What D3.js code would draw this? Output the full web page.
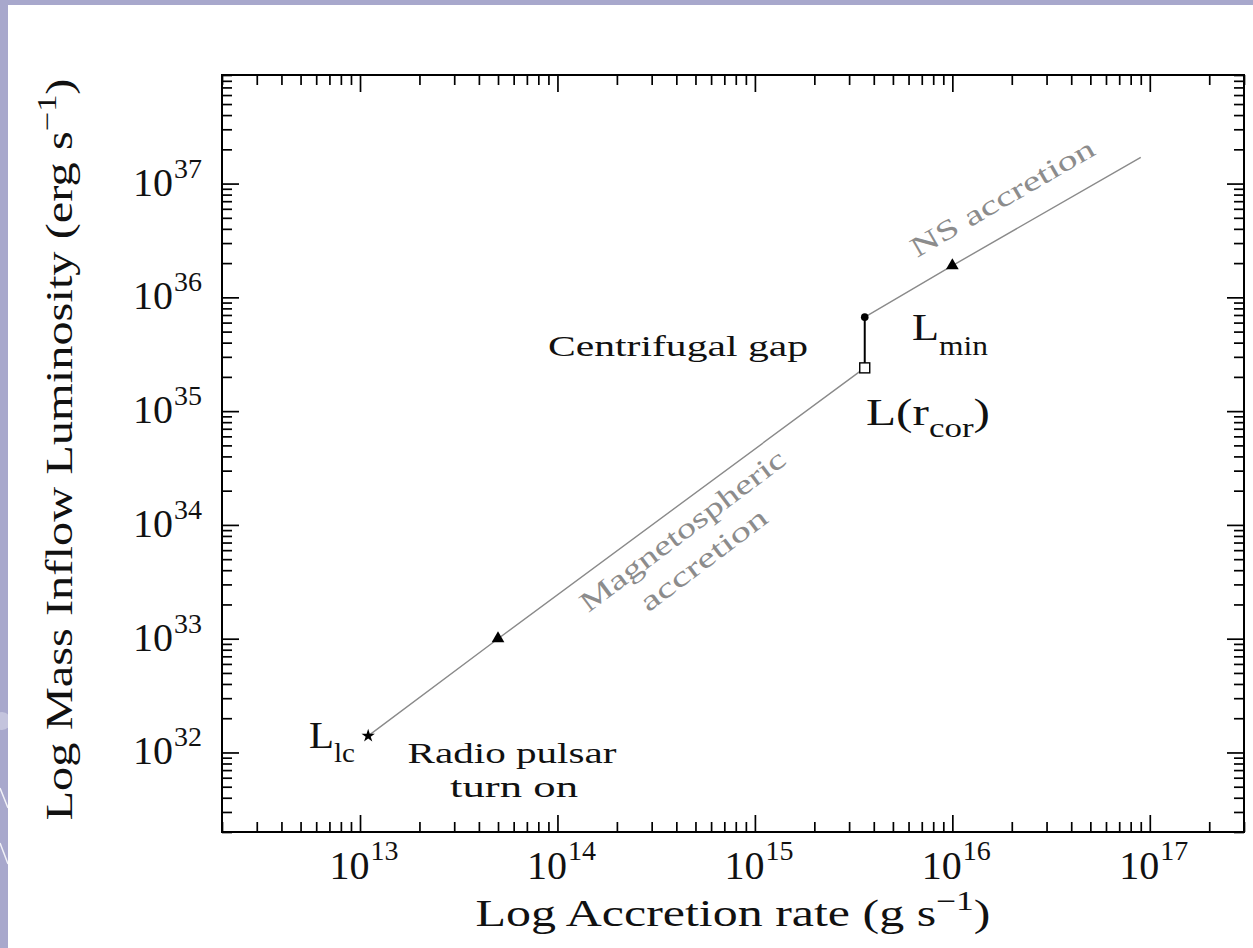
<!DOCTYPE html>
<html>
<head>
<meta charset="utf-8">
<script src="https://cdn.jsdelivr.net/npm/d3@7"></script>
<style>
  html, body { margin: 0; padding: 0; background: #a8a8cc; }
  svg { display: block; font-family: "Liberation Serif", "Times New Roman", serif; }
</style>
</head>
<body>
<svg id="chart" width="1253" height="948"></svg>
<script>
// ---- data -------------------------------------------------------------
const rateDomain = [2e12, 3e17];          // accretion rate, g s^-1
const lumDomain  = [2e31, 9e37];          // luminosity, erg s^-1
const rateTickValues    = [1e13, 1e14, 1e15, 1e16, 1e17];
const rateTickExponents = ["13", "14", "15", "16", "17"];
const lumTickValues     = [1e32, 1e33, 1e34, 1e35, 1e36, 1e37];
const lumTickExponents  = ["32", "33", "34", "35", "36", "37"];

// magnetospheric branch: light cylinder -> corotation
const magnetoRate = [1.1e13, 5.0e13, 3.6e15];
const magnetoLum  = [1.4e32, 1.0e33, 2.4e35];
// neutron-star surface branch: L_min -> upward
const surfaceRate = [3.6e15, 1.0e16, 9.0e16];
const surfaceLum  = [6.7e35, 1.9e36, 1.7e37];
// centrifugal gap (vertical jump)
const gapRate = [3.6e15, 3.6e15];
const gapLum  = [2.4e35, 6.7e35];
// markers
const starRate = [1.1e13];         const starLum = [1.4e32];
const triRate  = [5.0e13, 1.0e16]; const triLum  = [1.0e33, 1.9e36];
const dotRate  = [3.6e15];         const dotLum  = [6.7e35];
const sqRate   = [3.6e15];         const sqLum   = [2.4e35];

// ---- layout -----------------------------------------------------------
const svg = d3.select("#chart");
const W = 1253, H = 948;
const plot = { left: 222, right: 1244, top: 75, bottom: 832 };
const INK = "#111";

// slide background: lavender border with white panel
svg.append("rect").attr("width", W).attr("height", H).attr("fill", "#a8a8cc");
svg.append("circle").attr("cx", 2).attr("cy", 721).attr("r", 9).attr("fill", "#c4c4dd");
svg.append("line").attr("x1", 0).attr("y1", 788).attr("x2", 8).attr("y2", 808)
  .attr("stroke", "#ffffff").attr("stroke-width", 1.5).attr("opacity", 0.85);
svg.append("line").attr("x1", 0).attr("y1", 843).attr("x2", 8).attr("y2", 864)
  .attr("stroke", "#ffffff").attr("stroke-width", 1.5).attr("opacity", 0.85);
svg.append("rect").attr("x", 8).attr("y", 5).attr("width", W - 8).attr("height", H - 5)
  .attr("fill", "#ffffff");

const x = d3.scaleLog().domain(rateDomain).range([plot.left, plot.right]);
const y = d3.scaleLog().domain(lumDomain).range([plot.bottom, plot.top]);

const isDecade = v => Math.abs(Math.log10(v) - Math.round(Math.log10(v))) < 1e-9;
const xMinor = x.ticks().filter(v => !isDecade(v));
const yMinor = y.ticks().filter(v => !isDecade(v));

const MINOR = 10, MAJOR = 17;

function styleAxis(g) {
  g.select(".domain").remove();
  g.selectAll(".tick line").attr("stroke", "#000").attr("stroke-width", 1.7);
  g.selectAll(".tick text").remove();
}

// inward-pointing ticks on all four sides
const axes = svg.append("g");
[
  [d3.axisBottom, x, xMinor, rateTickValues, `translate(0,${plot.bottom})`],
  [d3.axisTop,    x, xMinor, rateTickValues, `translate(0,${plot.top})`],
  [d3.axisLeft,   y, yMinor, lumTickValues,  `translate(${plot.left},0)`],
  [d3.axisRight,  y, yMinor, lumTickValues,  `translate(${plot.right},0)`]
].forEach(([axisFn, scale, minor, major, tr]) => {
  axes.append("g").attr("transform", tr)
    .call(axisFn(scale).tickValues(minor).tickSize(-MINOR).tickFormat(""))
    .call(styleAxis);
  axes.append("g").attr("transform", tr)
    .call(axisFn(scale).tickValues(major).tickSize(-MAJOR).tickFormat(""))
    .call(styleAxis);
});

// frame
svg.append("rect")
  .attr("x", plot.left).attr("y", plot.top)
  .attr("width", plot.right - plot.left).attr("height", plot.bottom - plot.top)
  .attr("fill", "none").attr("stroke", "#000").attr("stroke-width", 2);

// tick labels 10^n
const xLabels = svg.append("g").attr("font-size", 40).attr("fill", INK);
rateTickValues.forEach((v, i) => {
  const t = xLabels.append("text")
    .attr("x", x(v) + 4).attr("y", plot.bottom + 47)
    .attr("text-anchor", "middle");
  t.append("tspan").text("10");
  t.append("tspan").attr("font-size", 28).attr("dy", -19).attr("dx", 1).text(rateTickExponents[i]);
});
const yLabels = svg.append("g").attr("font-size", 40).attr("fill", INK);
lumTickValues.forEach((v, i) => {
  const t = yLabels.append("text")
    .attr("x", plot.left - 20).attr("y", y(v) + 12)
    .attr("text-anchor", "end");
  t.append("tspan").text("10");
  t.append("tspan").attr("font-size", 28).attr("dy", -18).attr("dx", 1).text(lumTickExponents[i]);
});

// axis titles
const xTitle = svg.append("text")
  .attr("x", (plot.left + plot.right) / 2).attr("y", 926)
  .attr("text-anchor", "middle").attr("font-size", 38).attr("fill", INK)
  .attr("textLength", 515).attr("lengthAdjust", "spacingAndGlyphs");
xTitle.append("tspan").text("Log Accretion rate (g s");
xTitle.append("tspan").attr("font-size", 27).attr("dy", -16).text("\u22121");
xTitle.append("tspan").attr("dy", 16).text(")");

const yTitle = svg.append("text")
  .attr("transform", `translate(72,${(plot.top + plot.bottom) / 2 - 4}) rotate(-90)`)
  .attr("text-anchor", "middle").attr("font-size", 38).attr("fill", INK)
  .attr("textLength", 742).attr("lengthAdjust", "spacingAndGlyphs");
yTitle.append("tspan").text("Log Mass Inflow Luminosity (erg s");
yTitle.append("tspan").attr("font-size", 27).attr("dy", -16).text("\u22121");
yTitle.append("tspan").attr("dy", 16).text(")");

// accretion branches
const line = d3.line().x(d => x(d[0])).y(d => y(d[1]));
const pts = (xs, ys) => xs.map((v, i) => [v, ys[i]]);

svg.append("path").datum(pts(magnetoRate, magnetoLum))
  .attr("d", line).attr("fill", "none").attr("stroke", "#8a8a8a").attr("stroke-width", 1.4);
svg.append("path").datum(pts(surfaceRate, surfaceLum))
  .attr("d", line).attr("fill", "none").attr("stroke", "#8a8a8a").attr("stroke-width", 1.4);
svg.append("path").datum(pts(gapRate, gapLum))
  .attr("d", line).attr("fill", "none").attr("stroke", "#000").attr("stroke-width", 2);

// markers
const sym = (type, size) => d3.symbol().type(type).size(size)();
svg.selectAll(".star").data(pts(starRate, starLum)).join("path")
  .attr("transform", d => `translate(${x(d[0])},${y(d[1])})`)
  .attr("d", sym(d3.symbolStar, 55)).attr("fill", "#000");
svg.selectAll(".tri").data(pts(triRate, triLum)).join("path")
  .attr("transform", d => `translate(${x(d[0])},${y(d[1])})`)
  .attr("d", sym(d3.symbolTriangle, 70)).attr("fill", "#000");
svg.selectAll(".dot").data(pts(dotRate, dotLum)).join("circle")
  .attr("cx", d => x(d[0])).attr("cy", d => y(d[1])).attr("r", 3.8).attr("fill", "#000");
svg.selectAll(".sq").data(pts(sqRate, sqLum)).join("rect")
  .attr("x", d => x(d[0]) - 5).attr("y", d => y(d[1]) - 5)
  .attr("width", 10).attr("height", 10)
  .attr("fill", "#fff").attr("stroke", "#000").attr("stroke-width", 1.4);

// annotations
const ann = svg.append("g").attr("fill", INK);

function subLabel(xp, yp, main, sub, after, dySub, totalLen) {
  const t = ann.append("text").attr("x", xp).attr("y", yp).attr("font-size", 38);
  if (totalLen) t.attr("textLength", totalLen).attr("lengthAdjust", "spacingAndGlyphs");
  t.append("tspan").text(main);
  t.append("tspan").attr("font-size", 27).attr("dy", dySub).text(sub);
  if (after) t.append("tspan").attr("dy", -dySub).text(after);
  return t;
}
subLabel(309, 748, "L", "lc", null, 14, 46);
subLabel(912, 340, "L", "min", null, 15, 76);
subLabel(866, 425, "L(r", "cor", ")", 12, 124);

ann.append("text").attr("x", 548).attr("y", 356).attr("font-size", 30)
  .attr("textLength", 260).attr("lengthAdjust", "spacingAndGlyphs")
  .text("Centrifugal gap");
ann.append("text").attr("x", 512).attr("y", 763).attr("font-size", 30)
  .attr("text-anchor", "middle")
  .attr("textLength", 209).attr("lengthAdjust", "spacingAndGlyphs")
  .text("Radio pulsar");
ann.append("text").attr("x", 514).attr("y", 797).attr("font-size", 30)
  .attr("text-anchor", "middle")
  .attr("textLength", 128).attr("lengthAdjust", "spacingAndGlyphs")
  .text("turn on");

// branch names along the lines
const branchText = svg.append("g").attr("fill", "#8c8c8c").attr("font-size", 28);
[
  ["Magnetospheric", 688, 538, -37, 250],
  ["accretion",      709, 567, -37, 152],
  ["NS accretion",   1007, 206, -30, 208]
].forEach(([txt, cx, cy, ang, len]) => {
  branchText.append("text")
    .attr("transform", `translate(${cx},${cy}) rotate(${ang})`)
    .attr("text-anchor", "middle")
    .attr("textLength", len).attr("lengthAdjust", "spacingAndGlyphs")
    .text(txt);
});
</script>
</body>
</html>
